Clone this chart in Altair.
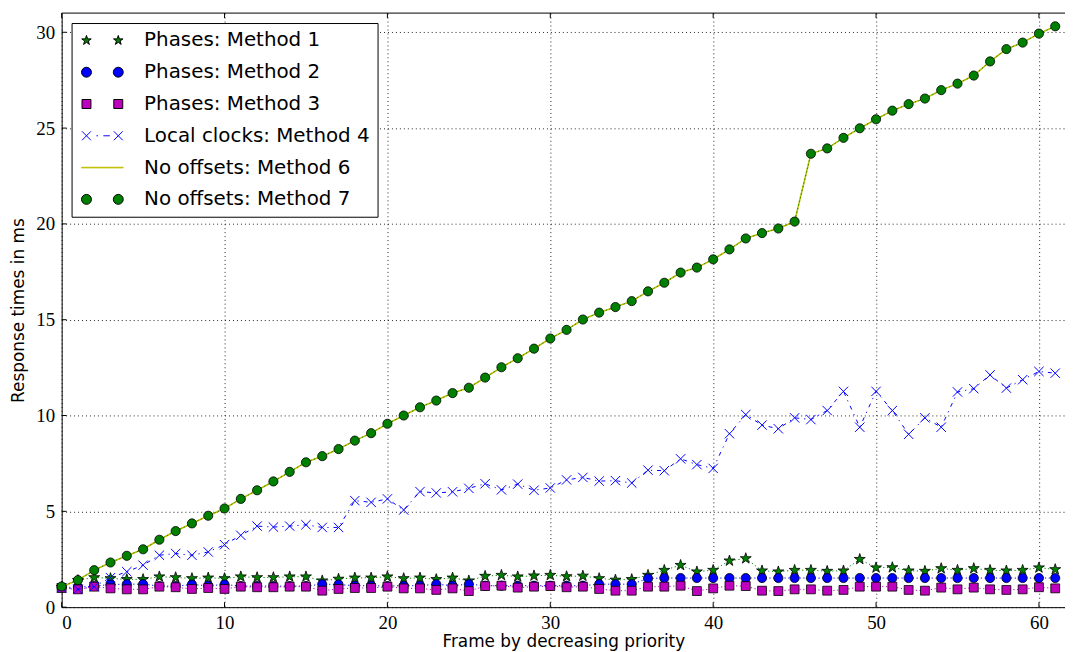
import altair as alt
import pandas as pd

# ---------------- data ----------------
X = list(range(62))

SERIES = [
    "Phases: Method 1",
    "Phases: Method 2",
    "Phases: Method 3",
    "Local clocks: Method 4",
    "No offsets: Method 6",
    "No offsets: Method 7",
]

M1 = [1.05, 1.40, 1.55, 1.50, 1.45, 1.45, 1.59, 1.55, 1.50, 1.53,
      1.50, 1.59, 1.55, 1.55, 1.59, 1.59, 1.38, 1.47, 1.53, 1.53,
      1.59, 1.50, 1.53, 1.45, 1.53, 1.38, 1.62, 1.67, 1.59, 1.64,
      1.67, 1.60, 1.63, 1.50, 1.42, 1.45, 1.67, 1.93, 2.19, 1.85,
      1.93, 2.42, 2.54, 1.90, 1.85, 1.93, 1.93, 1.88, 1.90, 2.50,
      2.06, 2.07, 1.90, 1.88, 2.02, 1.93, 2.02, 1.93, 1.90, 1.93,
      2.06, 1.97]

M2 = [1.02, 1.05, 1.10, 1.18, 1.20, 1.20, 1.10, 1.10, 1.18, 1.12,
      1.18, 1.10, 1.10, 1.10, 1.10, 1.10, 1.20, 1.18, 1.12, 1.12,
      1.10, 1.12, 1.12, 1.20, 1.12, 1.20, 1.12, 1.12, 1.12, 1.12,
      1.12, 1.12, 1.12, 1.20, 1.20, 1.20, 1.50, 1.52, 1.52, 1.52,
      1.52, 1.52, 1.52, 1.52, 1.52, 1.52, 1.52, 1.52, 1.52, 1.52,
      1.52, 1.52, 1.52, 1.52, 1.52, 1.52, 1.52, 1.52, 1.52, 1.52,
      1.52, 1.52]

M3 = [1.00, 0.93, 1.07, 0.98, 0.93, 0.93, 1.07, 1.04, 0.95, 1.00,
      0.95, 1.07, 1.04, 1.04, 1.07, 1.07, 0.86, 0.95, 1.00, 1.00,
      1.07, 0.98, 0.98, 0.90, 0.98, 0.84, 1.10, 1.12, 1.02, 1.07,
      1.10, 1.04, 1.07, 0.95, 0.86, 0.86, 1.07, 1.07, 1.12, 0.84,
      0.98, 1.12, 1.10, 0.86, 0.84, 0.93, 0.93, 0.86, 0.90, 1.07,
      1.07, 1.07, 0.90, 0.86, 1.02, 0.93, 1.02, 0.93, 0.90, 0.93,
      1.04, 0.98]

M4 = [1.00, 0.93, 1.07, 1.54, 1.85, 2.19, 2.71, 2.80, 2.71, 2.88,
      3.26, 3.75, 4.23, 4.18, 4.23, 4.30, 4.16, 4.16, 5.56, 5.47,
      5.65, 5.07, 6.03, 5.96, 6.02, 6.20, 6.44, 6.12, 6.42, 6.10,
      6.22, 6.64, 6.77, 6.58, 6.60, 6.48, 7.15, 7.12, 7.74, 7.44,
      7.24, 9.05, 10.05, 9.50, 9.31, 9.88, 9.79, 10.26, 11.26, 9.39,
      11.26, 10.26, 9.02, 9.88, 9.39, 11.23, 11.40, 12.12, 11.43, 11.87,
      12.30, 12.21]

M7 = [1.08, 1.41, 1.93, 2.33, 2.68, 3.02, 3.52, 3.97, 4.37, 4.77,
      5.15, 5.65, 6.10, 6.56, 7.06, 7.56, 7.88, 8.25, 8.69, 9.08,
      9.57, 10.00, 10.43, 10.78, 11.17, 11.45, 11.98, 12.52, 12.99, 13.49,
      14.02, 14.47, 15.01, 15.37, 15.66, 15.97, 16.48, 16.93, 17.46, 17.72,
      18.15, 18.67, 19.24, 19.52, 19.76, 20.12, 23.66, 23.94, 24.49, 24.99,
      25.46, 25.91, 26.25, 26.54, 26.98, 27.32, 27.74, 28.48, 29.12, 29.46,
      29.93, 30.31]

M6 = list(M7)

X_TICKS = [0, 10, 20, 30, 40, 50, 60]
Y_TICKS = [0, 5, 10, 15, 20, 25, 30]
X_MAX = 61.6
Y_MAX = 31

# ---------------- styles ----------------
GREEN = "#008000"
BLUE = "#0000ff"
MAGENTA = "#bf00bf"
YELLOW = "#bfbf00"
DOT = [1.2, 2.6]
DASHDOT = [4, 5, 1.2, 5]


def star_path(cx=0.0, r=1.0):
    outer = [(0, -1), (0.951, -0.309), (0.588, 0.809), (-0.588, 0.809), (-0.951, -0.309)]
    inner = [(0.225, -0.309), (0.363, 0.118), (0, 0.382), (-0.363, 0.118), (-0.225, -0.309)]
    pts = []
    for o, i in zip(outer, inner):
        pts.append(o)
        pts.append(i)
    s = "M " + " L ".join(f"{cx + px * r:.3f} {py * r:.3f}" for px, py in pts) + " Z"
    return s


def circle_path(cx, r=1.0):
    return (f"M {cx - r:.3f} 0 A {r} {r} 0 1 0 {cx + r:.3f} 0 "
            f"A {r} {r} 0 1 0 {cx - r:.3f} 0 Z")


def square_path(cx, h=0.9):
    return (f"M {cx - h:.3f} {-h} L {cx + h:.3f} {-h} L {cx + h:.3f} {h} "
            f"L {cx - h:.3f} {h} Z")


def x_path(cx, h=0.9):
    return (f"M {cx - h:.3f} {-h} L {cx + h:.3f} {h} "
            f"M {cx - h:.3f} {h} L {cx + h:.3f} {-h}")


STAR = star_path()
XMARK = x_path(0)
C = 3.2  # legend marker centre distance (in symbol units)

LEG_SHAPES = [
    star_path(-C) + " " + star_path(C),
    circle_path(-C) + " " + circle_path(C),
    square_path(-C) + " " + square_path(C),
    x_path(-C) + " " + x_path(C) + " M -1.2 0 L -0.9 0 M 0.2 0 L 1.5 0",
    f"M {-C - 1} -0.06 L {C + 1} -0.06 L {C + 1} 0.06 L {-C - 1} 0.06 Z",
    circle_path(-C) + " " + circle_path(C),
]
LEG_FILLS = [GREEN, BLUE, MAGENTA, "transparent", YELLOW, GREEN]
LEG_STROKES = ["black", "black", "black", BLUE, YELLOW, "black"]

# ---------------- tables ----------------
values = [M1, M2, M3, M4, M6, M7]
rows = []
for name, ys in zip(SERIES, values):
    for xv, yv in zip(X, ys):
        rows.append({"series": name, "x": xv, "y": yv})
df = pd.DataFrame(rows)

X_ENC = alt.X(
    "x:Q",
    scale=alt.Scale(domain=[0, X_MAX], nice=False, zero=False),
    axis=alt.Axis(values=X_TICKS, title="Frame by decreasing priority", grid=True,
                  format="d", labelPadding=6, titlePadding=2),
)
Y_ENC = alt.Y(
    "y:Q",
    scale=alt.Scale(domain=[0, Y_MAX], nice=False, zero=False),
    axis=alt.Axis(values=Y_TICKS, title="Response times in ms", grid=True,
                  format="d", labelPadding=7, titlePadding=8),
)


def sub(name):
    return alt.Chart(df).transform_filter(alt.datum.series == name)


layers = []
# Method 1
layers.append(sub(SERIES[0]).mark_line(color=GREEN, strokeWidth=1, strokeDash=DOT)
              .encode(x=X_ENC, y=Y_ENC))
layers.append(sub(SERIES[0]).mark_point(shape=STAR, filled=True, fill=GREEN, stroke="black",
                                         strokeWidth=0.8, size=135, opacity=1)
              .encode(x=X_ENC, y=Y_ENC))
# Method 2
layers.append(sub(SERIES[1]).mark_line(color=BLUE, strokeWidth=1, strokeDash=DOT)
              .encode(x=X_ENC, y=Y_ENC))
layers.append(sub(SERIES[1]).mark_point(shape="circle", filled=True, fill=BLUE, stroke="black",
                                         strokeWidth=0.8, size=85, opacity=1)
              .encode(x=X_ENC, y=Y_ENC))
# Method 3
layers.append(sub(SERIES[2]).mark_line(color=MAGENTA, strokeWidth=1, strokeDash=DOT)
              .encode(x=X_ENC, y=Y_ENC))
layers.append(sub(SERIES[2]).mark_point(shape="square", filled=True, fill=MAGENTA, stroke="black",
                                         strokeWidth=0.8, size=80, opacity=1)
              .encode(x=X_ENC, y=Y_ENC))
# Method 4
layers.append(sub(SERIES[3]).mark_line(color=BLUE, strokeWidth=1, strokeDash=DASHDOT)
              .encode(x=X_ENC, y=Y_ENC))
layers.append(sub(SERIES[3]).mark_point(shape=XMARK, filled=False, stroke=BLUE,
                                         strokeWidth=1, size=110, opacity=1)
              .encode(x=X_ENC, y=Y_ENC))
# Method 6
layers.append(sub(SERIES[4]).mark_line(color=YELLOW, strokeWidth=1.6)
              .encode(x=X_ENC, y=Y_ENC))
# Method 7
layers.append(sub(SERIES[5]).mark_line(color=GREEN, strokeWidth=1, strokeDash=DOT)
              .encode(x=X_ENC, y=Y_ENC))
layers.append(sub(SERIES[5]).mark_point(shape="circle", filled=True, fill=GREEN, stroke="black",
                                         strokeWidth=0.8, size=85, opacity=1)
              .encode(x=X_ENC, y=Y_ENC))

# frame: top spine
top_df = pd.DataFrame({"y": [Y_MAX]})
layers.append(alt.Chart(top_df).mark_rule(color="black", strokeWidth=1).encode(y=Y_ENC))

# inward ticks
bt = pd.DataFrame({"x": X_TICKS, "y": [0] * len(X_TICKS)})
tt = pd.DataFrame({"x": X_TICKS, "y": [Y_MAX] * len(X_TICKS)})
lt = pd.DataFrame({"x": [0] * len(Y_TICKS), "y": Y_TICKS})
layers.append(alt.Chart(bt).mark_tick(orient="vertical", size=5, thickness=1, color="black",
                                       yOffset=-2.5, opacity=1).encode(x=X_ENC, y=Y_ENC))
layers.append(alt.Chart(tt).mark_tick(orient="vertical", size=5, thickness=1, color="black",
                                       yOffset=2.5, opacity=1).encode(x=X_ENC, y=Y_ENC))
layers.append(alt.Chart(lt).mark_tick(orient="horizontal", size=5, thickness=1, color="black",
                                       xOffset=2.5, opacity=1).encode(x=X_ENC, y=Y_ENC))

# legend carrier (invisible points, visible legend)
leg = alt.Legend(
    title=None, orient="top-left", offset=10, padding=7.5, strokeColor="black",
    fillColor="white", cornerRadius=0, labelFont="DejaVu Sans", labelFontSize=20,
    labelColor="black", symbolSize=100, symbolStrokeWidth=1, symbolOffset=13.5,
    labelOffset=32, rowPadding=12, symbolOpacity=1, labelLimit=500, zindex=3,
)
layers.append(
    alt.Chart(df).mark_point(filled=True, opacity=0, size=100).encode(
        x=X_ENC, y=Y_ENC,
        fill=alt.Fill("series:N", scale=alt.Scale(domain=SERIES, range=LEG_FILLS), legend=leg),
        stroke=alt.Stroke("series:N", scale=alt.Scale(domain=SERIES, range=LEG_STROKES), legend=leg),
        shape=alt.Shape("series:N", scale=alt.Scale(domain=SERIES, range=LEG_SHAPES), legend=leg),
    )
)

chart = alt.layer(*layers).properties(
    width=1010, height=598,
    padding={"left": 54, "top": 3, "right": 0, "bottom": 42},
    autosize=alt.AutoSizeParams(type="none"),
).configure_view(stroke=None).configure_axis(
    domainColor="black", domainWidth=1, tickSize=0,
    gridColor="black", gridDash=[1, 3], gridWidth=1, gridOpacity=0.85,
    labelFont="Liberation Serif", labelFontSize=19, labelColor="black",
    titleFont="DejaVu Sans", titleFontSize=17, titleFontWeight="normal", titleColor="black",
)

chart.save("out.html", embed_options={"renderer": "svg", "actions": False})
